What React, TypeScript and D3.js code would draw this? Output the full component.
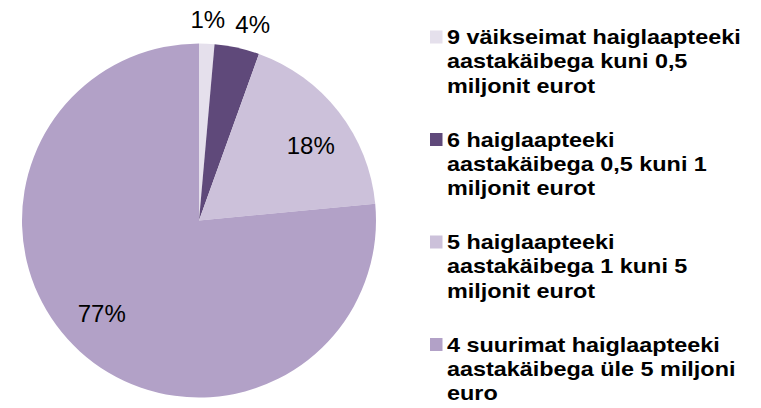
import * as d3 from "d3";

// slice shares in %, clockwise from 12 o'clock
const values = [1.4, 4.1, 18.0, 76.5];
const categories = [
  ["9 väikseimat haiglaapteeki", "aastakäibega kuni 0,5", "miljonit eurot"],
  ["6 haiglaapteeki", "aastakäibega 0,5 kuni 1", "miljonit eurot"],
  ["5 haiglaapteeki", "aastakäibega 1 kuni 5", "miljonit eurot"],
  ["4 suurimat haiglaapteeki", "aastakäibega üle 5 miljoni", "euro"],
];
const colors = ["#E5E0EC", "#5F497A", "#CCC1DA", "#B2A1C7"];

const width = 761;
const height = 408;
const cx = 199;
const cy = 220.5;
const radius = 177;
const labelSize = 24;
const font = "Arial, 'Liberation Sans', sans-serif";

export default function App() {
  const total = d3.sum(values);
  const arcs = d3.pie<number>().sort(null).value(d => d)(values);
  const arc = d3.arc<d3.PieArcDatum<number>>().innerRadius(0).outerRadius(radius);
  const outer = d3.arc<d3.PieArcDatum<number>>().innerRadius(radius * 1.135).outerRadius(radius * 1.135);

  // label positions: small slices go outside, pushed apart if they collide
  let prevRight = -Infinity;
  const labels = arcs.map(a => {
    const text = `${Math.round((a.data / total) * 100)}%`;
    const small = a.data / total < 0.05;
    let x: number, y: number;
    if (small) {
      [x, y] = outer.centroid(a);
      const w = text.length * 0.6 * labelSize;
      if (x - w / 2 < prevRight + 16) x = prevRight + 16 + w / 2;
      prevRight = x + w / 2;
    } else {
      // inside labels sit a little clockwise of the mid angle
      const ang = (a.startAngle + a.endAngle) / 2 + 0.07;
      x = Math.sin(ang) * radius * 0.76;
      y = -Math.cos(ang) * radius * 0.76;
    }
    return { text, x, y };
  });

  const legendX = 430;
  const legendTop = 44;
  const legendStep = 102.5;
  const lineH = 24.5;

  return (
    <svg width={width} height={height} style={{ position: "absolute", left: 0, top: 0, background: "#fff" }}>
      <g transform={`translate(${cx},${cy})`}>
        {arcs.map((a, i) => (
          <path key={i} d={arc(a) ?? ""} fill={colors[i]} />
        ))}
        {labels.map((l, i) => (
          <text key={i} x={l.x} y={l.y} dy="0.35em" textAnchor="middle" fontFamily={font} fontSize={labelSize} fill="#000">
            {l.text}
          </text>
        ))}
      </g>
      {categories.map((lines, i) => {
        const y0 = legendTop + i * legendStep;
        return (
          <g key={i}>
            <rect x={legendX} y={y0 - 13.5} width={12.5} height={13} fill={colors[i]} />
            <g transform={`translate(${legendX + 17},${y0}) scale(1.2,1)`}>
              {lines.map((t, j) => (
                <text key={j} x={0} y={j * lineH} fontFamily={font} fontWeight="bold" fontSize={19.5} fill="#000">
                  {t}
                </text>
              ))}
            </g>
          </g>
        );
      })}
    </svg>
  );
}
